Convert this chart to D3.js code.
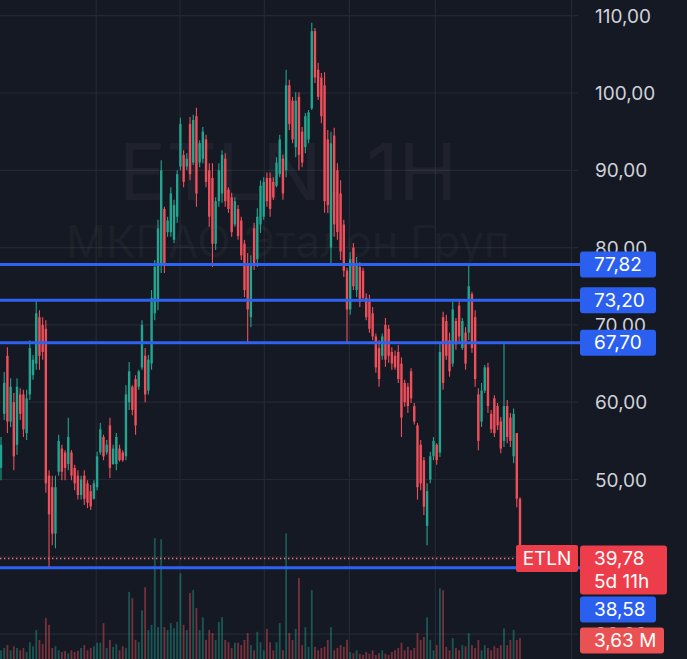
<!DOCTYPE html>
<html><head><meta charset="utf-8">
<script src="https://cdn.jsdelivr.net/npm/d3@7"></script>
<style>html,body{margin:0;padding:0;background:#151923;}svg{display:block}</style>
</head><body><svg id="c" width="687" height="659"></svg>
<script>
const opens=[51.5,58.5,66,57.5,60,54.5,61,61,56,61,
63.5,65,71,70,69.5,50.5,49,43,51,54,
53.5,52,53.5,51.5,50.5,48,50.5,49.5,48.5,47.5,
49,53.5,55.5,53.5,57,52,52,54,53.5,53,
60,62,63,62,64.5,66,61.5,65,71.5,73,
78,85,82,82,81,84,90.5,92,90.5,96,
91,97,91,91.5,94,90,89,80.5,86,87,
91.5,87.5,86.5,83,85,83.5,80.5,78,71,82.5,
78.5,83,84,89,89,88.5,88,89.5,91.5,90,
101,99,93,99.5,95,93,94,98,108,103,
102,101,94,80,94.5,90,87,83,77,72,
80,74.5,77.5,77,73.5,73,71.5,68.5,67,66,
70,69.5,66.5,66,66.5,65,62.5,62,64,59.5,
57,54.5,52.5,44,50,53,54.5,53.5,71,70.5,
68,65,70.5,72.5,67,69,69,74,71,61,
57.5,61.5,64.5,58.5,60.5,59.5,57.5,55,59.5,58,
53,56,47.5];
const highs=[55.5,63.9,67.1,63.1,61.2,63.1,61.8,61.6,61.6,68.0,
66.1,73.2,71.9,71.0,70.6,51.2,50.5,50.5,55.8,54.5,
53.8,58.0,53.8,51.9,51.2,50.5,51.2,49.9,49.3,49.9,
53.6,57.3,55.8,55.1,58.0,54.5,56.0,54.5,53.8,62.2,
65.2,62.2,63.5,64.2,70.6,67.0,66.1,74.5,78.4,83.6,
91.3,85.3,84.0,87.8,86.2,90.0,96.8,92.6,92.2,96.9,
97.2,98.1,93.9,95.6,94.6,90.9,90.9,86.5,90.9,92.6,
92.2,87.8,87.1,86.5,85.5,84.0,81.0,79.3,79.0,83.2,
85.1,88.7,89.1,89.7,89.7,89.1,91.7,94.6,92.0,103.0,
101.7,99.5,100.1,100.1,95.6,97.4,97.8,109.1,108.4,103.9,
102.6,102.7,95.2,95.0,95.5,90.9,88.7,83.6,77.4,79.4,
80.6,78.8,78.1,77.4,74.1,73.9,72.3,68.9,68.0,68.9,
70.9,70.0,67.1,66.7,67.4,65.8,62.9,62.5,64.4,59.9,
57.3,55.1,52.9,49.5,53.6,55.5,54.7,67.7,71.7,71.3,
69.0,73.0,70.9,73.2,70.9,69.7,77.82,74.3,71.9,61.8,
62.5,64.8,65.1,59.0,60.9,59.9,58.1,67.7,60.3,58.6,
59.2,56.0,47.7];
const lows=[49.9,57.7,56.0,56.8,51.2,53.2,57.7,55.5,55.1,60.3,
62.9,64.2,64.2,65.5,48.3,38.58,41.5,41.1,50.5,49.9,
49.9,51.2,49.9,48.6,47.4,47.4,46.7,46.3,46.05,47.4,
48.6,53.2,52.5,53.2,50.2,51.9,51.2,52.3,52.3,52.5,
59.0,58.3,55.8,61.6,64.2,60.0,61.0,64.2,70.6,71.9,
76.7,76.7,81.4,81.4,80.6,83.2,90.0,87.8,90.0,88.7,
90.7,85.3,90.4,90.9,87.8,82.7,77.5,79.7,85.3,85.8,
85.3,84.5,81.4,82.7,81.0,78.4,73.6,67.8,69.7,77.1,
77.5,81.9,83.6,85.3,84.0,86.2,87.8,89.1,86.2,89.1,
95.2,93.5,91.7,90.0,90.4,92.2,93.5,97.8,101.3,99.1,
96.1,84.5,84.5,77.82,81.4,81.0,78.4,76.2,67.7,71.3,
74.5,73.6,72.3,73.2,70.6,69.0,68.0,63.8,62.0,65.5,
64.6,65.1,64.2,64.2,62.5,55.5,59.4,58.6,59.9,57.1,
47.4,48.6,45.4,41.5,49.5,52.5,51.9,52.9,61.6,65.5,
63.3,64.6,66.8,67.7,66.8,64.2,68.0,66.4,62.0,53.8,
56.8,61.2,58.6,56.0,55.5,56.4,53.4,54.2,54.7,54.2,
52.1,46.4,38.8];
const closes=[54.5,62.5,57.5,62,53,62,58.5,56.5,60.5,67,
65.5,71.5,66,66.5,49.5,45.5,43,49,55,51,
51.5,55.5,50.5,49.5,48,50,47.5,47,46.5,49.5,
53,56.5,53,54.5,51.5,54,55.5,52.5,52.5,61,
64,59,57,64,70,61,65.5,73.5,77.5,82.5,
90,78,83.5,87,85.5,89.5,96,88.5,91.5,89.5,
96.5,87,93.5,95,88.5,84,80.5,86,90,92,
86,85,82,86,81.5,79,74.5,72,78,78,
84,88,88.5,86,85,86.5,91,94,87,101,
96,94,99,92,91,97,97.5,108,102,99.5,
97,86,85.5,93.5,83,82,79.5,77,72,78.5,
75,78,73,73.5,71,69.5,68.5,64.5,63,68.5,
65.5,66,65,64.5,63,58,60,59.5,60.5,57.5,
49,49.5,46.5,48.5,53,55,52.5,66.5,62.5,66,
64,72,67.5,68.5,70.5,65,75,67,63,55,
61.5,64.5,59.5,56.5,56,57,54,59.5,55.5,55,
58.5,47.5,39.78];
const volumes=[1.5,1.9,2.4,1.5,2.2,1.9,1.5,1.9,1.2,2.9,
2.2,5.0,3.3,2.6,7.1,5.9,1.9,2.2,1.5,1.2,
1.4,1.0,1.5,1.2,1.4,1.9,2.4,1.5,1.9,2.2,
2.8,2.8,6.2,1.9,3.3,2.1,2.6,1.5,2.2,1.9,
11.6,10.5,3.3,2.9,8.4,12.4,5.0,5.9,20.9,5.5,
20.7,5.5,5.0,6.2,5.3,6.4,14.8,5.9,5.0,11.4,
11.9,8.8,5.0,7.2,3.3,5.0,4.5,3.3,6.4,7.2,
3.3,2.9,1.9,2.8,2.8,2.4,3.3,4.5,2.4,1.5,
4.7,2.9,1.5,5.2,2.9,1.5,2.9,6.2,1.5,21.7,
4.5,3.3,5.2,14.0,2.4,5.5,2.1,11.9,2.1,1.5,
1.9,2.1,3.3,5.5,1.5,1.9,2.4,2.1,3.3,1.2,
1.0,1.5,0.9,0.7,1.2,0.9,1.5,0.7,1.0,1.5,
0.9,0.7,1.2,1.5,1.9,2.8,1.5,2.1,1.5,1.9,
4.5,3.3,3.8,7.2,3.3,1.5,2.4,12.2,11.9,2.1,
1.5,3.6,1.9,1.5,2.4,2.2,4.5,2.4,1.9,3.3,
1.5,2.4,1.9,1.5,2.2,1.9,2.4,5.3,2.4,3.3,
5.0,3.3,3.63];
const priceTicks=[30,40,50,60,70,80,90,100,110];
const timeGridIndex=[29.7,55.9,82.2,108.75,135.6,178.1];
const levelValues=[77.82,73.20,67.70,38.58];
const lastPrice=39.78;
const ticker="ETLN";
const countdown="5d 11h";
const lastVolumeText="3,63 M";
const watermarkTitle="ETLN, 1H";
const watermarkName="МКПАО Эталон Груп";

const W=687,H=659, paneRight=578;
const fmt=v=>v.toFixed(2).replace('.',',');
const n=opens.length;
const svg=d3.select('#c');
const FONT='Inter, Roboto, "Noto Sans", sans-serif';
const GREEN='#22a48f', RED='#ef4f5a', BLUE='#2b5fef', BLUEL='#2f62f0';

const x=d3.scaleLinear().domain([0,n-1]).range([1,520]);
const y=d3.scaleLinear().domain([30,110]).range([634.1,15.7]);
const yv=d3.scaleLinear().domain([0,21.7]).range([H,H-125.6]);

svg.append('rect').attr('width',W).attr('height',H).attr('fill','#151923');

// grid
const g=svg.append('g');
g.selectAll('line.h').data(priceTicks).join('line')
  .attr('x1',0).attr('x2',paneRight).attr('y1',d=>y(d)).attr('y2',d=>y(d))
  .attr('stroke','#242833').attr('stroke-width',1.2);
g.selectAll('line.v').data(timeGridIndex).join('line')
  .attr('x1',d=>x(d)).attr('x2',d=>x(d)).attr('y1',0).attr('y2',H)
  .attr('stroke','#242833').attr('stroke-width',1.2);

// watermark
svg.append('text').attr('x',288).attr('y',200).attr('text-anchor','middle')
  .attr('font-family',FONT).attr('font-size',79).attr('fill','#ffffff').attr('fill-opacity',0.045)
  .text(watermarkTitle);
svg.append('text').attr('x',288).attr('y',257).attr('text-anchor','middle')
  .attr('font-family',FONT).attr('font-size',44).attr('fill','#ffffff').attr('fill-opacity',0.045)
  .text(watermarkName);

const idx=d3.range(n);
const up=i=>closes[i]>=opens[i];
// volume
svg.append('g').selectAll('rect').data(idx).join('rect')
  .attr('x',i=>x(i)-0.9).attr('width',1.8)
  .attr('y',i=>yv(volumes[i])).attr('height',i=>H-yv(volumes[i]))
  .attr('fill',i=>up(i)?GREEN:RED).attr('fill-opacity',0.45);

// candles
const cg=svg.append('g');
cg.selectAll('line').data(idx).join('line')
  .attr('x1',i=>x(i)).attr('x2',i=>x(i))
  .attr('y1',i=>y(highs[i])).attr('y2',i=>y(lows[i]))
  .attr('stroke',i=>up(i)?GREEN:RED).attr('stroke-width',1.1);
cg.selectAll('rect').data(idx).join('rect')
  .attr('x',i=>x(i)-1.2).attr('width',2.4)
  .attr('y',i=>y(Math.max(opens[i],closes[i])))
  .attr('height',i=>Math.max(1,Math.abs(y(opens[i])-y(closes[i]))))
  .attr('fill',i=>up(i)?GREEN:RED);

// level lines
svg.append('g').selectAll('line').data(levelValues).join('line')
  .attr('x1',0).attr('x2',paneRight+2).attr('y1',d=>y(d)).attr('y2',d=>y(d))
  .attr('stroke',BLUEL).attr('stroke-width',3);

// last price dotted line
svg.append('line').attr('x1',0).attr('x2',516).attr('y1',y(lastPrice)).attr('y2',y(lastPrice))
  .attr('stroke','#f0737b').attr('stroke-width',1.3).attr('stroke-dasharray','1.4,2.6');

// price axis
const axis=d3.axisRight(y).tickValues(priceTicks).tickSize(0).tickPadding(0).tickFormat(fmt);
const ag=svg.append('g').attr('transform','translate(595,0)').call(axis);
ag.select('.domain').remove();
ag.selectAll('text').attr('font-family',FONT).attr('font-size',19).attr('fill','#cfd2da').attr('dy','0.35em');

// label boxes
function box(x0,top,w,h,color,lines){
  const gg=svg.append('g');
  gg.append('rect').attr('x',x0).attr('y',top).attr('width',w).attr('height',h).attr('rx',3).attr('fill',color);
  lines.forEach((t,k)=>{
    gg.append('text').attr('x',x0+14).attr('y',top+13+k*23).attr('dy','0.35em')
      .attr('font-family',FONT).attr('font-size',19).attr('fill','#ffffff').text(t);
  });
}
levelValues.slice(0,3).forEach(v=>box(580,y(v)-13,76,26,BLUE,[fmt(v)]));
box(580,y(lastPrice)-13,87,49,'#ee3d4a',[fmt(lastPrice),countdown]);
box(580,y(lastPrice)+38,76,26,BLUE,[fmt(levelValues[3])]);
box(580,y(lastPrice)+69,84,26,'#ea5152',[lastVolumeText]);
// ticker label
const tg=svg.append('g');
tg.append('rect').attr('x',516).attr('y',y(lastPrice)-13.5).attr('width',62).attr('height',27).attr('rx',2).attr('fill','#ee3d4a');
tg.append('text').attr('x',547).attr('y',y(lastPrice)).attr('dy','0.35em').attr('text-anchor','middle')
  .attr('font-family',FONT).attr('font-size',19).attr('fill','#ffffff').text(ticker);
</script></body></html>
